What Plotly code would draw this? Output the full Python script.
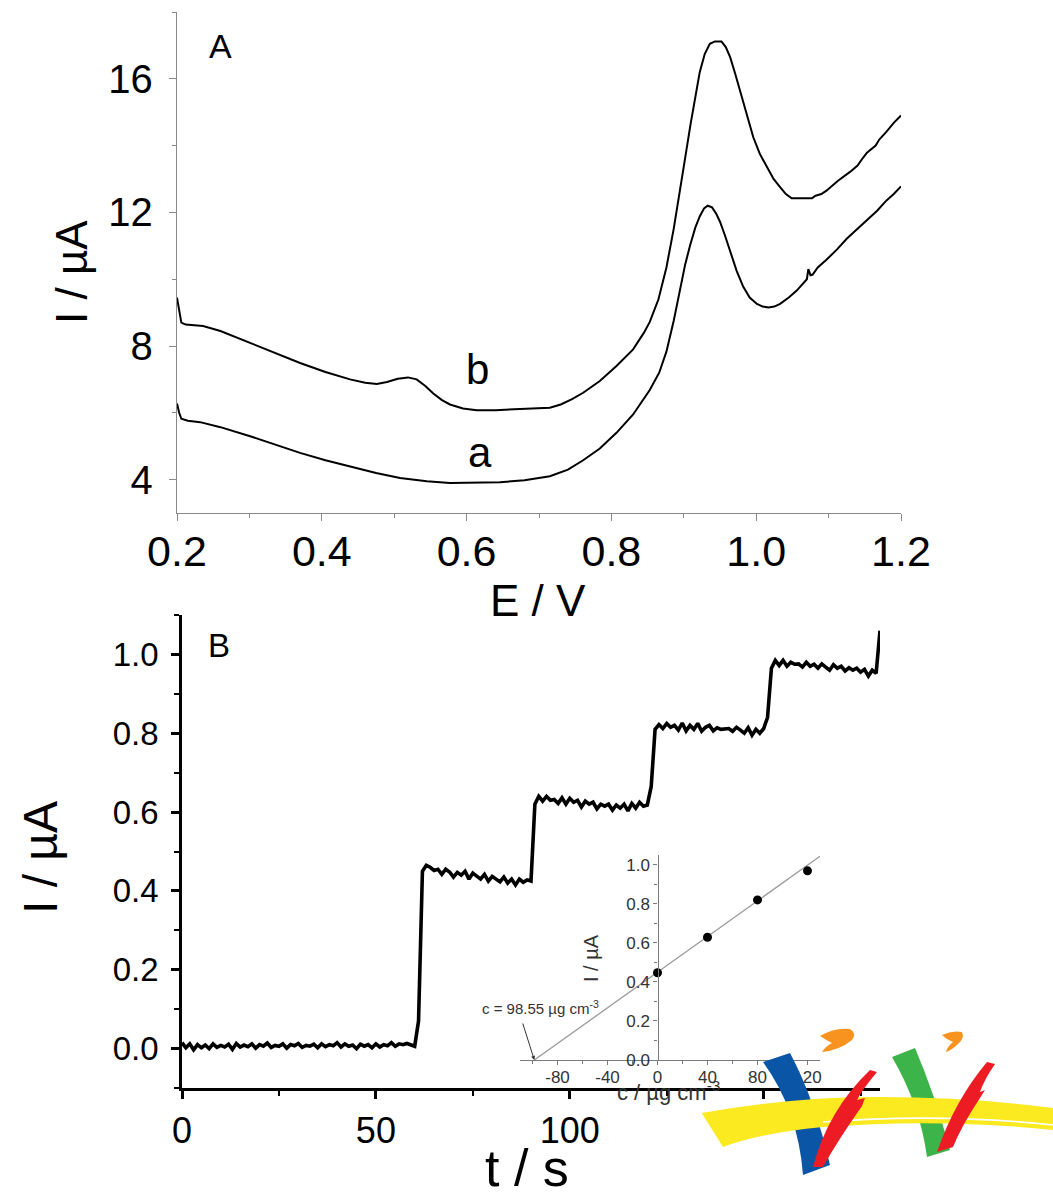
import numpy as np
import plotly.graph_objects as go

W, H = 1053, 1196
FONT = "Liberation Sans, Arial, sans-serif"

# ---------------- Panel A: linear sweep voltammograms ----------------
E_a = [0.200, 0.203, 0.206, 0.215, 0.232, 0.260, 0.301, 0.335, 0.370, 0.405,
       0.439, 0.475, 0.508, 0.545, 0.577, 0.610, 0.646, 0.680, 0.715, 0.740,
       0.761, 0.784, 0.807, 0.830, 0.853, 0.866, 0.876, 0.886, 0.895, 0.902,
       0.909, 0.916, 0.922, 0.928, 0.933, 0.939, 0.945, 0.950, 0.957, 0.964,
       0.973, 0.982, 0.991, 1.001, 1.009, 1.017, 1.025, 1.033, 1.045, 1.056,
       1.066, 1.070, 1.072, 1.075, 1.078, 1.085, 1.097, 1.105, 1.112, 1.125,
       1.140, 1.153, 1.167, 1.180, 1.190, 1.200]
I_a = [6.28, 6.00, 5.82, 5.76, 5.72, 5.57, 5.30, 5.05, 4.80, 4.58,
       4.40, 4.20, 4.05, 3.95, 3.90, 3.90, 3.92, 3.98, 4.10, 4.30,
       4.58, 4.93, 5.40, 5.95, 6.68, 7.20, 7.83, 8.75, 9.66, 10.45,
       11.04, 11.55, 11.88, 12.12, 12.20, 12.15, 11.95, 11.72, 11.30, 10.81,
       10.25, 9.78, 9.45, 9.26, 9.18, 9.15, 9.18, 9.26, 9.45, 9.66,
       9.88, 10.00, 10.30, 10.12, 10.14, 10.35, 10.58, 10.75, 10.90, 11.21,
       11.50, 11.78, 12.05, 12.36, 12.55, 12.78]

E_b = [0.200, 0.203, 0.206, 0.212, 0.236, 0.260, 0.301, 0.335, 0.370, 0.405,
       0.439, 0.460, 0.476, 0.490, 0.505, 0.519, 0.531, 0.543, 0.554, 0.566,
       0.577, 0.595, 0.614, 0.640, 0.669, 0.700, 0.715, 0.730, 0.745, 0.761,
       0.784, 0.807, 0.830, 0.845, 0.853, 0.865, 0.876, 0.886, 0.895, 0.902,
       0.909, 0.916, 0.922, 0.929, 0.936, 0.943, 0.952, 0.958, 0.964, 0.971,
       0.978, 0.987, 0.996, 1.005, 1.015, 1.024, 1.033, 1.041, 1.049, 1.063,
       1.077, 1.082, 1.090, 1.097, 1.113, 1.130, 1.140, 1.147, 1.153, 1.165,
       1.170, 1.180, 1.190, 1.200]
I_b = [9.45, 9.00, 8.70, 8.64, 8.60, 8.45, 8.10, 7.80, 7.49, 7.22,
       7.00, 6.90, 6.86, 6.92, 7.02, 7.06, 7.00, 6.80, 6.58, 6.38,
       6.25, 6.13, 6.08, 6.08, 6.10, 6.12, 6.15, 6.25, 6.40, 6.60,
       6.95, 7.40, 7.90, 8.40, 8.72, 9.40, 10.35, 11.50, 12.65, 13.65,
       14.60, 15.50, 16.20, 16.75, 17.05, 17.12, 17.12, 16.95, 16.65, 16.15,
       15.62, 14.90, 14.25, 13.75, 13.33, 13.00, 12.76, 12.55, 12.42, 12.42,
       12.42, 12.50, 12.55, 12.65, 12.95, 13.22, 13.40, 13.62, 13.79, 14.00,
       14.18, 14.42, 14.68, 14.90]

# ---------------- Panel B: amperometric response (1 s sampling) ----------------
baseline = [0.015, 0.002, 0.012, -0.003, 0.010, 0.002, 0.009, 0.000, 0.012, 0.003,
            0.008, 0.004, 0.011, -0.002, 0.013, 0.004, 0.009, 0.005, 0.012, 0.001,
            0.010, 0.006, 0.014, 0.003, 0.008, 0.006, 0.012, 0.001, 0.010, 0.007,
            0.013, 0.003, 0.008, 0.006, 0.011, 0.002, 0.012, 0.005, 0.010, 0.007,
            0.015, 0.004, 0.012, 0.006, 0.009, 0.000, 0.011, 0.006, 0.010, 0.002,
            0.012, 0.004, 0.010, 0.007, 0.015, 0.006, 0.012, 0.010, 0.013, 0.009,
            0.006]
rise1 = [0.07, 0.45]
plateau1 = [0.465, 0.460, 0.452, 0.455, 0.442, 0.455, 0.448, 0.435, 0.447, 0.440,
            0.450, 0.430, 0.445, 0.438, 0.430, 0.442, 0.425, 0.437, 0.430, 0.423,
            0.435, 0.420, 0.430, 0.415, 0.430, 0.422, 0.428, 0.425]
rise2 = [0.62]
plateau2 = [0.640, 0.628, 0.640, 0.630, 0.632, 0.622, 0.636, 0.620, 0.635, 0.625,
            0.630, 0.613, 0.628, 0.620, 0.625, 0.608, 0.620, 0.615, 0.620, 0.605,
            0.618, 0.610, 0.620, 0.603, 0.622, 0.610, 0.625, 0.615, 0.618]
rise3 = [0.665, 0.81]
plateau3 = [0.822, 0.812, 0.825, 0.815, 0.820, 0.808, 0.826, 0.806, 0.820, 0.810,
            0.825, 0.805, 0.815, 0.820, 0.806, 0.814, 0.810, 0.810, 0.812, 0.805,
            0.815, 0.808, 0.800, 0.814, 0.795, 0.810, 0.800, 0.812]
rise4 = [0.84, 0.965]
plateau4 = [0.985, 0.972, 0.985, 0.970, 0.980, 0.975, 0.976, 0.968, 0.980, 0.970,
            0.975, 0.965, 0.976, 0.968, 0.960, 0.974, 0.965, 0.970, 0.958, 0.966,
            0.960, 0.965, 0.955, 0.962, 0.945, 0.960, 0.952]
final = [1.06]

current_B = (baseline + rise1 + plateau1 + rise2 + plateau2 + rise3 + plateau3
             + rise4 + plateau4 + final)
time_B = np.arange(len(current_B))  # seconds

# ---------------- Inset: standard addition plot ----------------
conc = [0, 40, 80, 120]
inset_I = [0.447, 0.629, 0.820, 0.969]
c_found = 98.55          # µg cm^-3, x-intercept of the fit
fit_intercept = 0.45
fit_slope = fit_intercept / c_found
fit_c = np.array([-c_found, 130])
fit_I = fit_intercept + fit_slope * fit_c
inset_xticks = [-80, -40, 0, 40, 80, 120]


def px(v):
    return v / W


def py(v):
    return 1 - v / H


fig = go.Figure()

for E, I in ((E_a, I_a), (E_b, I_b)):
    fig.add_trace(go.Scatter(x=E, y=I, mode="lines", xaxis="x", yaxis="y",
                             line=dict(color="black", width=2), showlegend=False,
                             hoverinfo="skip"))

fig.add_trace(go.Scatter(x=time_B, y=current_B, mode="lines", xaxis="x2", yaxis="y2",
                         line=dict(color="black", width=3.6), showlegend=False))

fig.add_trace(go.Scatter(x=fit_c, y=fit_I, mode="lines", xaxis="x3", yaxis="y3",
                         line=dict(color="#9a9a9a", width=1.3), showlegend=False))
fig.add_trace(go.Scatter(x=conc, y=inset_I, mode="markers", xaxis="x3", yaxis="y3",
                         marker=dict(color="black", size=9), showlegend=False))

# invisible pixel-scaled axes used to place the logo artwork
fig.add_trace(go.Scatter(x=[None], y=[None], xaxis="x4", yaxis="y4", showlegend=False))

grayA = "#8a8a8a"
axA = dict(showline=True, linecolor=grayA, linewidth=1.3, ticks="outside", ticklen=7,
           tickwidth=1.3, tickcolor=grayA, showgrid=False, zeroline=False,
           tickfont=dict(family=FONT, size=40, color="black"))
axB = dict(showline=True, linecolor="black", linewidth=2.5, ticks="outside", ticklen=8,
           tickwidth=2.5, tickcolor="black", showgrid=False, zeroline=False)
grayI = "#7a7a7a"
axI = dict(showline=True, linecolor=grayI, linewidth=1.2, ticks="outside", ticklen=4,
           tickwidth=1, tickcolor=grayI, showgrid=False, zeroline=False,
           tickfont=dict(family=FONT, size=17, color="#333333"))

xd3 = [px(520), px(820)]
xr3 = [-110, 130]
y3_pos = xd3[0] + (0 - xr3[0]) / (xr3[1] - xr3[0]) * (xd3[1] - xd3[0])

fig.update_layout(
    width=W, height=H, margin=dict(l=0, r=0, t=0, b=0, autoexpand=False),
    paper_bgcolor="white", plot_bgcolor="rgba(0,0,0,0)",
    font=dict(family=FONT, color="black"),
    xaxis=dict(axA, domain=[px(177), px(901)], range=[0.2, 1.2], anchor="y",
               tick0=0.2, dtick=0.2, tickformat=".1f", ticklabelstandoff=-7,
               tickfont=dict(family=FONT, size=43, color="black"),
               minor=dict(dtick=0.1, tick0=0.2, ticks="outside", ticklen=4, tickcolor=grayA)),
    yaxis=dict(axA, domain=[py(513), py(12)], range=[3, 18], anchor="x",
               tick0=0, dtick=4, ticklabelstandoff=8,
               minor=dict(dtick=2, tick0=0, ticks="outside", ticklen=4, tickcolor=grayA)),
    xaxis2=dict(axB, domain=[px(182), px(880)], range=[0, 180], anchor="y2",
                tick0=0, dtick=50, ticklabelstandoff=1,
                tickfont=dict(family=FONT, size=36, color="black"),
                minor=dict(dtick=25, tick0=0, ticks="outside", ticklen=5, tickwidth=2,
                           tickcolor="black")),
    yaxis2=dict(axB, domain=[py(1088), py(615)], range=[-0.1, 1.1], anchor="x2",
                tick0=0, dtick=0.2, tickformat=".1f", ticklabelstandoff=6,
                tickfont=dict(family=FONT, size=33, color="black"),
                minor=dict(dtick=0.1, tick0=0, ticks="outside", ticklen=5, tickwidth=2,
                           tickcolor="black")),
    xaxis3=dict(axI, domain=xd3, range=xr3, anchor="y3",
                tickmode="array", tickvals=inset_xticks,
                ticktext=[str(v) for v in inset_xticks], ticklabelstandoff=-3,
                minor=dict(dtick=20, tick0=0, ticks="outside", ticklen=3, tickcolor=grayI)),
    yaxis3=dict(axI, domain=[py(1060), py(855)], range=[0, 1.05], anchor="free",
                position=y3_pos, tick0=0, dtick=0.2, tickformat=".1f",
                minor=dict(dtick=0.1, tick0=0, ticks="outside", ticklen=3, tickcolor=grayI)),
    xaxis4=dict(domain=[px(690), 1], range=[690, W], visible=False, anchor="y4",
                fixedrange=True),
    yaxis4=dict(domain=[0, py(1010)], range=[H, 1010], visible=False, anchor="x4",
                fixedrange=True),
)

ann = []


def label(text, x, y, size, angle=0, color="black"):
    ann.append(dict(text=text, x=px(x), y=py(y), xref="paper", yref="paper",
                    showarrow=False, textangle=angle, xanchor="center", yanchor="middle",
                    font=dict(family=FONT, size=size, color=color)))


# axis titles and panel letters
label("I / µA", 72, 272, 44, -90)
label("E / V", 538, 600, 44)
label("I / µA", 40, 858, 48, -90)
label("t / s", 527, 1168, 52)
label("A", 220, 46, 34)
label("B", 219, 645, 33)
label("I / µA", 591, 958, 20, -90, "#333333")
label("c / µg cm<sup>-3</sup>", 668, 1091, 22, 0, "#333333")
label("c = 98.55 µg cm<sup>-3</sup>", 540, 1007, 15, 0, "#333333")

# curve labels in panel A
ann.append(dict(text="a", x=0.618, y=4.8, xref="x", yref="y", showarrow=False,
                font=dict(family=FONT, size=42, color="black")))
ann.append(dict(text="b", x=0.615, y=7.3, xref="x", yref="y", showarrow=False,
                font=dict(family=FONT, size=42, color="black")))

# arrow to the x-intercept of the fit
ann.append(dict(text="", x=-c_found, y=0, xref="x3", yref="y3", showarrow=True,
                ax=-12, ay=-38, arrowhead=2, arrowsize=0.8, arrowwidth=1,
                arrowcolor="#333333", standoff=0))

fig.update_layout(annotations=ann)

# logo artwork (pixel coordinates on the hidden x4/y4 axes), with its white backing
logo = [
    ("M 700,1104 L 830,1098 L 830,1160 L 700,1160 Z", "white", None),
    ("M 763,1062 L 790,1053 Q 815,1100 830,1165 L 803,1175 Q 798,1110 763,1062 Z", "#0a55a5", None),
    ("M 892,1057 L 915,1048 Q 935,1095 950,1150 L 927,1157 Q 920,1105 892,1057 Z", "#3cb44a", None),
    ("M 701.7,1113 Q 800,1096 880,1097 Q 970,1097 1053,1108 L 1053,1130 "
     "Q 940,1118 823,1127 Q 760,1133 723,1147 Z", "#fcea20", None),
    ("M 823,1122 Q 940,1113 1053,1125", None, "white"),
    ("M 813,1167 Q 828,1110 870,1070 L 877,1072 Q 862,1090 857,1100 L 865,1098 "
     "L 862,1106 Q 838,1140 823,1167 Z", "#ed1c24", None),
    ("M 937,1152 Q 955,1100 987,1062 L 995,1064 Q 984,1080 980,1092 L 985,1090 "
     "L 980,1098 Q 962,1125 953,1147 Z", "#ed1c24", None),
    ("M 820,1036 Q 835,1027 850,1029 Q 857,1033 852,1040 Q 840,1050 822,1052 "
     "Q 826,1046 832,1043 Q 826,1040 820,1036 Z", "#f7931e", None),
    ("M 942,1035 Q 952,1030 962,1032 Q 965,1038 958,1044 Q 952,1050 946,1052 "
     "Q 947,1047 953,1042 Q 947,1040 942,1035 Z", "#f7931e", None),
]
for path, fill, stroke in logo:
    if fill:
        fig.add_shape(type="path", path=path, xref="x4", yref="y4", layer="above",
                      fillcolor=fill, line=dict(width=0))
    else:
        fig.add_shape(type="path", path=path, xref="x4", yref="y4", layer="above",
                      line=dict(color=stroke, width=1.6))

fig.write_html("out.html")
